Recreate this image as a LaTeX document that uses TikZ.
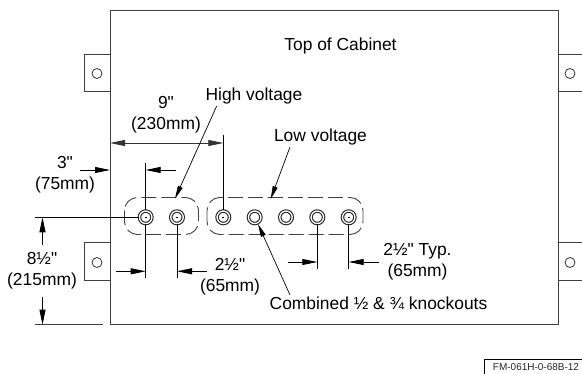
\documentclass[tikz,border=0pt]{standalone}
\usepackage{fontspec}
\setmainfont{Liberation Sans}[Ligatures=TeXOff]
\usetikzlibrary{arrows.meta,calc}
\tikzset{
  body/.style={draw=black!75,line width=1pt},
  thin line/.style={draw=black,line width=0.8pt},
  dim/.style={draw=black,line width=0.8pt,-{Triangle[length=15pt,width=6pt]}},
  dimboth/.style={draw=black!80,line width=0.8pt,{Triangle[length=15pt,width=6pt]}-{Triangle[length=15pt,width=6pt]}},
  leader/.style={draw=black,line width=0.7pt,-{Triangle[length=13pt,width=5pt]}},
  lbl/.style={font=\fontsize{17.4}{20}\selectfont,inner sep=0pt,align=center},
  hole/.style={circle,draw=black!80,line width=0.8pt,minimum size=10pt,inner sep=0pt},
  ko/.style={circle,draw=black!85,line width=1.1pt,double=white,double distance=1.3pt,minimum size=12.5pt,inner sep=0pt},
  group/.style={draw=black!75,line width=0.9pt,rounded corners=13pt,dash pattern=on 15pt off 5pt},
}
\begin{document}
\begin{tikzpicture}[x=1pt,y=-1pt]
\useasboundingbox (0,0) rectangle (582,374);
% cabinet
\draw[body] (110,10.5) rectangle (558,324.7);
% tabs
\draw[body] (110,54.5) -- (84.5,54.5) -- (84.5,92) -- (110,92);
\draw[body] (110,243) -- (84.5,243) -- (84.5,281) -- (110,281);
\draw[body] (558,54.5) -- (582,54.5) (558,92) -- (582,92);
\draw[body] (558,243) -- (582,243) (558,281) -- (582,281);
\node[hole] (h1) at (97,73.5) {};
\node[hole] (h2) at (97,262.5) {};
\node[hole] (h3) at (570,73.5) {};
\node[hole] (h4) at (570,262.5) {};
% groups
\draw[group] (124.5,197.5) rectangle (198.5,234.5);
\draw[group] (207,197.5) rectangle (363,234.5);
% knockouts
\foreach \n/\x in {1/145.7,2/177,3/223.3,4/254.7,5/286,6/317.3,7/348.7}
  \node[ko] (k\n) at (\x,217.3) {};
\foreach \n in {1,2,3,7}
  \fill (k\n.center) ++(-1,-0.4) rectangle ++(2,0.8);
% coordinates
\coordinate (leftedge) at (110,170);
\coordinate (a9l) at (110,143);
\coordinate (a9r) at (223.3,143);
\coordinate (e3top) at (223.3,135);
\coordinate (e1top) at (145.7,163);
\coordinate (e1bot) at (145.7,278);
\coordinate (e2bot) at (177,278);
\coordinate (e6bot) at (317.3,269.5);
\coordinate (e7bot) at (348.7,269.5);
\coordinate (hstart) at (35,217.3);
\coordinate (bstart) at (35,324.7);
\coordinate (bend) at (103,324.7);
% extension lines
\draw[thin line] (e3top) -- (k3.north);
\draw[thin line] (e1top) -- (k1.north);
\draw[thin line] (k1.south) -- (e1bot);
\draw[thin line] (k2.south) -- (e2bot);
\draw[thin line] (k6.south) -- (e6bot);
\draw[thin line] (k7.south) -- (e7bot);
\draw[thin line] (hstart) -- (k1.west);
\draw[draw=black!75,line width=0.9pt] (bstart) -- (bend);
% dimensions
\draw[dimboth] (a9l) -- (a9r);
\draw[dim] (80,170) -- (leftedge);
\draw[dim] (175.5,170) -- (145.7,170);
\draw[dim] (116,271.3) -- (145.7,271.3);
\draw[dim] (207,271.3) -- (177,271.3);
\draw[dim] (288,262) -- (317.3,262);
\draw[dim] (379,262) -- (348.7,262);
\draw[dim] (42.5,245) -- (42.5,217.3);
\draw[dim] (42.5,297) -- (42.5,324.7);
% labels
\node[lbl] (top) at (340.5,46) {Top of Cabinet};
\node[lbl] (hv) at (254,96) {High voltage};
\node[lbl] (lv) at (320.5,137) {Low voltage};
\node[lbl] (d9) at (166,115) {9"\\[1pt](230mm)};
\node[lbl] (d3) at (65,175) {3"\\[1pt](75mm)};
\node[lbl] (d8) at (42,271) {8½"\\[1pt](215mm)};
\node[lbl] (d2) at (230,276.5) {2½"\\[1pt](65mm)};
\node[lbl] (dt) at (417.5,262) {2½" Typ.\\[1pt](65mm)};
\node[lbl] (cb) at (378.5,303.5) {Combined ½ \& ¾ knockouts};
% leaders
\coordinate (hvt) at (175,198.7);
\coordinate (lvt) at (270.7,199);
\coordinate (cbt) at (258,224);
\draw[leader] (216.7,106) -- (hvt);
\draw[leader] (290,147) -- (lvt);
\draw[leader] (290,295) -- (cbt);
% footer
\draw[draw=black,line width=0.8pt] (484.5,375) -- (484.5,359.3) -- (582,359.3);
\node[inner sep=0pt,font=\fontsize{10}{12}\selectfont,text=black!85] (fm) at (536,367.5) {FM-061H-0-68B-12};
\end{tikzpicture}
\end{document}
